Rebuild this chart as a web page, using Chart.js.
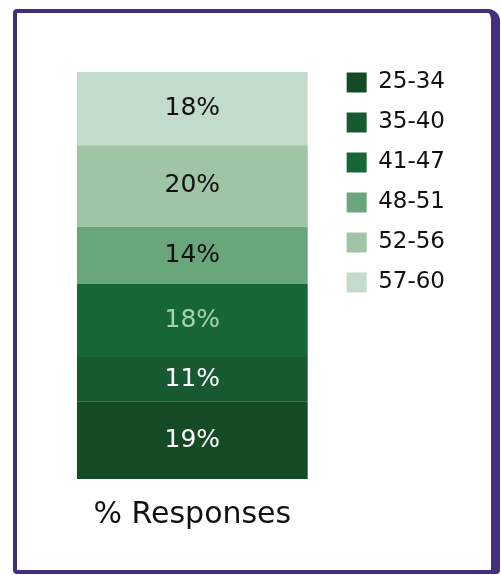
<!DOCTYPE html>
<html>
<head>
<meta charset="utf-8">
<script src="https://cdn.jsdelivr.net/npm/chart.js@4.4.0/dist/chart.umd.min.js"></script>
<style>
  body { margin: 0; background: #fff; }
  .card {
    position: absolute; left: 13px; top: 9px; width: 487px; height: 565px;
    box-sizing: border-box; border: 4px solid #432f7b; border-right-width: 9px;
    border-radius: 4px 12px 4px 4px;
  }
  #ageChart { position: absolute; left: 0; top: 0; }
</style>
</head>
<body>
<div class="card"></div>
<canvas id="ageChart" width="501" height="575"></canvas>
<script>
const categories = ["% Responses"];
const ageGroups = ["25-34", "35-40", "41-47", "48-51", "52-56", "57-60"];
const shares = [19, 11, 18, 14, 20, 18];
const barColors = ["#144b25", "#175a2f", "#176636", "#6aa67c", "#9fc5a6", "#c2dbca"];
const labelColors = ["#ffffff", "#ffffff", "#a9d2b3", "#111111", "#111111", "#111111"];

const fontFamily = "'DejaVu Sans', sans-serif";

// writes the percentage in the middle of each stacked segment
const segmentLabels = {
  id: "segmentLabels",
  afterDatasetsDraw(chart) {
    const ctx = chart.ctx;
    ctx.save();
    ctx.font = "25px " + fontFamily;
    ctx.textAlign = "center";
    ctx.textBaseline = "middle";
    chart.data.datasets.forEach((ds, i) => {
      const meta = chart.getDatasetMeta(i);
      meta.data.forEach((bar, j) => {
        const { x, y, base } = bar.getProps(["x", "y", "base"], true);
        ctx.fillStyle = labelColors[i];
        ctx.fillText(ds.data[j] + "%", x, (y + base) / 2);
      });
    });
    ctx.restore();
  }
};

const ageChart = new Chart(document.getElementById("ageChart"), {
  type: "bar",
  data: {
    labels: categories,
    datasets: ageGroups.map((g, i) => ({
      label: g,
      data: [shares[i]],
      backgroundColor: barColors[i],
      borderWidth: 0,
      categoryPercentage: 0.84,
      barPercentage: 1
    }))
  },
  options: {
    responsive: false,
    animation: false,
    layout: { padding: { top: 54, left: 55, right: 46, bottom: 24 } },
    scales: {
      x: {
        stacked: true,
        grid: { display: false, drawTicks: false },
        border: { display: false },
        ticks: { color: "#111", padding: 18, font: { family: fontFamily, size: 30 } }
      },
      y: { stacked: true, display: false, min: 0, max: 100 }
    },
    plugins: {
      // empty title only keeps the bars 18px below the legend's top edge
      title: { display: true, text: "", padding: 0, font: { size: 18, lineHeight: 1 } },
      tooltip: { enabled: false },
      legend: {
        position: "right",
        align: "start",
        labels: {
          boxWidth: 20,
          boxHeight: 20,
          padding: 17,
          color: "#111",
          font: { family: fontFamily, size: 23 }
        }
      }
    }
  },
  plugins: [segmentLabels]
});
</script>
</body>
</html>
